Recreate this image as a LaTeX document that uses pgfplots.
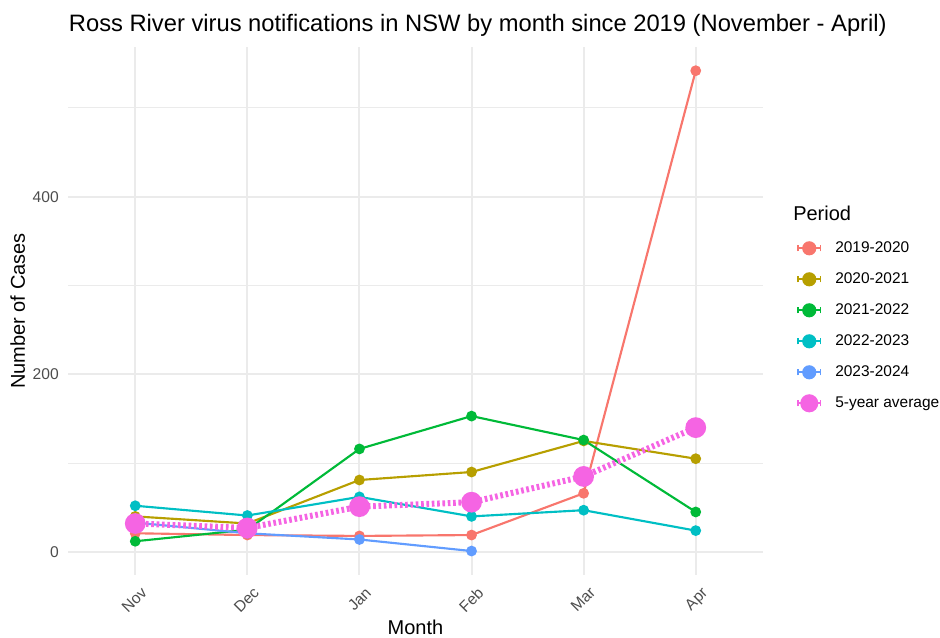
\documentclass[border=0pt]{standalone}
\usepackage{pgfplots}
\pgfplotsset{compat=1.18}
\usepackage{fontspec}
\setmainfont{Liberation Sans}
\definecolor{c1}{HTML}{F8766D}
\definecolor{c2}{HTML}{B79F00}
\definecolor{c3}{HTML}{00BA38}
\definecolor{c4}{HTML}{00BFC4}
\definecolor{c5}{HTML}{619CFF}
\definecolor{c6}{HTML}{F564E3}
\definecolor{gridc}{HTML}{EBEBEB}
\definecolor{tickc}{HTML}{4D4D4D}
\begin{document}
\begin{tikzpicture}
\useasboundingbox (0,0) rectangle (705pt,477.75pt);
\begin{axis}[
  at={(51pt,46.5pt)}, anchor=south west,
  scale only axis, width=521.25pt, height=396.2pt,
  xmin=0.4, xmax=6.6, ymin=-26, ymax=569,
  xtick={1,2,3,4,5,6}, xticklabels={Nov,Dec,Jan,Feb,Mar,Apr},
  ytick={0,200,400}, minor ytick={100,300,500},
  grid=both,
  major grid style={color=gridc, line width=1.5pt},
  minor grid style={color=gridc, line width=0.75pt},
  axis line style={draw=none},
  major tick length=0pt, minor tick length=0pt,
  tick style={draw=none},
  /pgf/number format/assume math mode=true,
  yticklabel style={font=\fontsize{11.7pt}{14pt}\selectfont, text=tickc, anchor=east, inner sep=0pt, xshift=-6.75pt},
  xticklabel style={font=\fontsize{11.7pt}{14pt}\selectfont, text=tickc, xshift=3.75pt, yshift=-8.25pt, rotate=45, anchor=north east, inner sep=0pt},
  legend style={at={(1.0475,0.6483)}, anchor=north west, draw=none, fill=none, inner sep=0pt, row sep=0pt, column sep=9.75pt, font=\fontsize{11.6pt}{14pt}\selectfont, nodes={minimum height=23.25pt, inner sep=0pt}},
  legend cell align=left,
  legend image code/.code={
    \draw[solid, line width=1.5pt] (0pt,0pt) -- (18pt,0pt);
    \draw[solid, line width=1pt] (0.5pt,-2.3pt) -- (0.5pt,2.3pt);
    \draw[solid, line width=1pt] (17.5pt,-2.3pt) -- (17.5pt,2.3pt);
    \fill[solid] (9pt,0pt) circle (4.5pt);
  },
  every axis plot/.append style={line width=1.6pt, mark=*, mark size=3.2pt},
]
\addplot[color=c1] coordinates {(1,21) (2,19) (3,18) (4,19) (5,66) (6,542)};
\addlegendentry{2019-2020}
\addplot[color=c2] coordinates {(1,40) (2,32) (3,81) (4,90) (5,125) (6,105)};
\addlegendentry{2020-2021}
\addplot[color=c3] coordinates {(1,12) (2,25) (3,116) (4,153) (5,126) (6,45)};
\addlegendentry{2021-2022}
\addplot[color=c4] coordinates {(1,52) (2,41) (3,62) (4,40) (5,47) (6,24)};
\addlegendentry{2022-2023}
\addplot[color=c5] coordinates {(1,33) (2,21) (3,14) (4,1)};
\addlegendentry{2023-2024}
\addplot[color=c6, line width=4.5pt, dash pattern=on 2pt off 2pt, mark size=5.5pt, mark options={solid}] coordinates {(1,32) (2,27) (3,51) (4,56) (5,85) (6,140)};
\addlegendentry{5-year average}
\end{axis}
\node[anchor=base west, inner sep=0pt, font=\fontsize{17.8pt}{21pt}\selectfont] at (51.5pt,453.75pt) {Ross River virus notifications in NSW by month since 2019 (November - April)};
\node[anchor=base, font=\fontsize{15pt}{18pt}\selectfont] at (311.6pt,2.25pt) {Month};
\node[anchor=base, rotate=90, font=\fontsize{15pt}{18pt}\selectfont] at (18.75pt,244.5pt) {Number of Cases};
\node[anchor=base west, inner sep=0pt, font=\fontsize{15pt}{18pt}\selectfont] at (594.75pt,312.4pt) {Period};
\end{tikzpicture}
\end{document}
